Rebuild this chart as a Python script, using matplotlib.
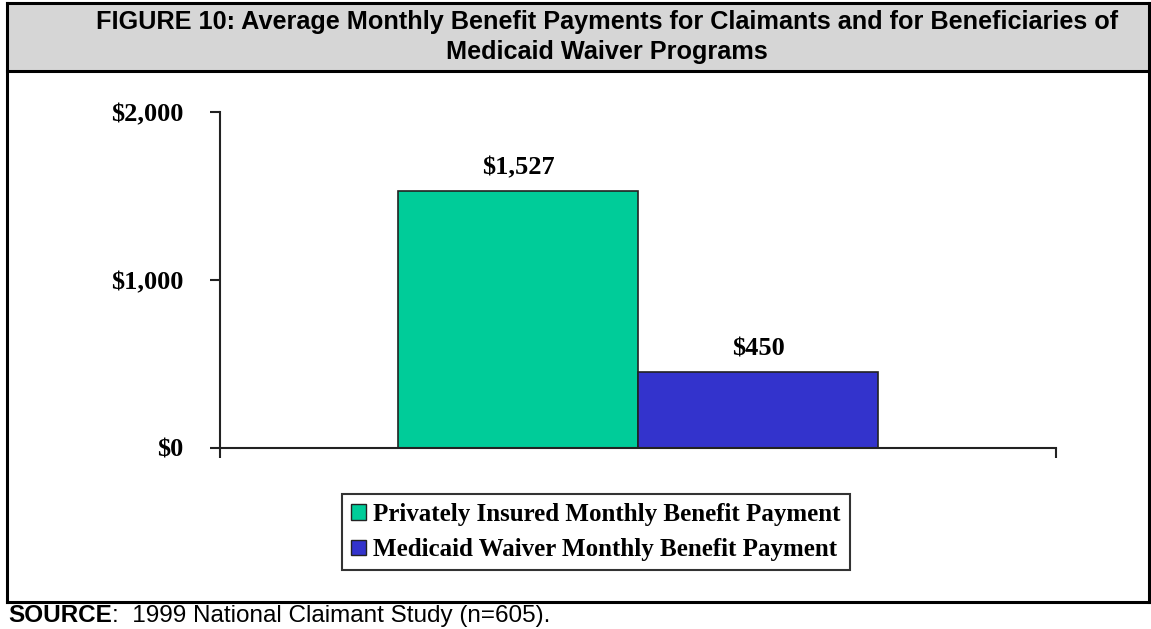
import matplotlib.pyplot as plt
from matplotlib.patches import Rectangle
from matplotlib.lines import Line2D
import matplotlib.patches as mpatches

series = ['Privately Insured Monthly Benefit Payment',
          'Medicaid Waiver Monthly Benefit Payment']
values = [1527, 450]
colors = ['#00CC99', '#3333CC']
yticks = [0, 1000, 2000]
ytick_labels = ['$0', '$1,000', '$2,000']

title = ('FIGURE 10: Average Monthly Benefit Payments for Claimants and for Beneficiaries of\n'
         'Medicaid Waiver Programs')

fig = plt.figure(figsize=(11.51, 6.29), dpi=100)
W, H = 1151, 629

def fx(px):
    return px / W

def fy(py):
    return 1 - py / H

# title band and outer frame
fig.patches.append(Rectangle((fx(7), fy(71)), fx(1149) - fx(7), fy(3) - fy(71),
                             transform=fig.transFigure, facecolor='#D6D6D6',
                             edgecolor='none', zorder=0))
lw = 2.2
for (x0, y0, x1, y1) in [(7, 3, 1150, 3), (7, 71, 1150, 71), (7, 602, 1150, 602),
                         (7, 3, 7, 602), (1149, 3, 1149, 602)]:
    fig.add_artist(Line2D([fx(x0), fx(x1)], [fy(y0), fy(y1)], transform=fig.transFigure,
                          color='black', lw=lw, solid_capstyle='projecting'))

fig.text(fx(607), fy(37), title, ha='center', va='center', fontsize=18.2,
         fontweight='bold', family='Liberation Sans', linespacing=1.3)

ax = fig.add_axes([fx(220), fy(448), fx(1056) - fx(220), fy(112) - fy(448)])

src = fig.text(fx(8), fy(616), 'SOURCE', ha='left', va='center', fontsize=17.5,
               fontweight='bold', family='Liberation Sans')
ax.annotate(':  1999 National Claimant Study (n=605).', xy=(1, 0.5), xycoords=src,
            ha='left', va='center', fontsize=17.5, family='Liberation Sans',
            annotation_clip=False)

w = 0.287
for i, (v, c) in enumerate(zip(values, colors)):
    x = 0.5 - w + i * w
    ax.bar(x, v, width=w, align='edge', color=c, edgecolor='#222222', lw=1.2,
           label=series[i], zorder=2)
    ax.text(x + w / 2, v + 138, '${:,}'.format(v), ha='center', va='center',
            fontsize=19, fontweight='bold', family='Liberation Serif')

ax.set_xlim(0, 1)
ax.set_ylim(0, 2000)
ax.set_yticks(yticks)
ax.set_yticklabels(ytick_labels, fontsize=19, fontweight='bold', family='Liberation Serif')
ax.set_xticks([0, 1])
ax.set_xticklabels(['', ''])
ax.tick_params(axis='y', length=7.5, width=1.5, pad=19, color='#222222')
ax.tick_params(axis='x', length=7.5, width=1.5, color='#222222')
for s in ['top', 'right']:
    ax.spines[s].set_visible(False)
for s in ['left', 'bottom']:
    ax.spines[s].set_linewidth(1.5)
    ax.spines[s].set_color('#222222')

handles = [mpatches.Patch(facecolor=c, edgecolor='#222222', lw=1) for c in colors]
leg = fig.legend(handles, series, loc='center', bbox_to_anchor=(fx(596), fy(532)),
                 prop={'family': 'Liberation Serif', 'weight': 'bold', 'size': 18},
                 frameon=True, fancybox=False, edgecolor='black', handlelength=0.6,
                 handleheight=0.6, handletextpad=0.3, borderpad=0.35, labelspacing=0.5,
                 borderaxespad=0)
leg.get_frame().set_linewidth(1.5)

fig.savefig('out.png', dpi=100)
